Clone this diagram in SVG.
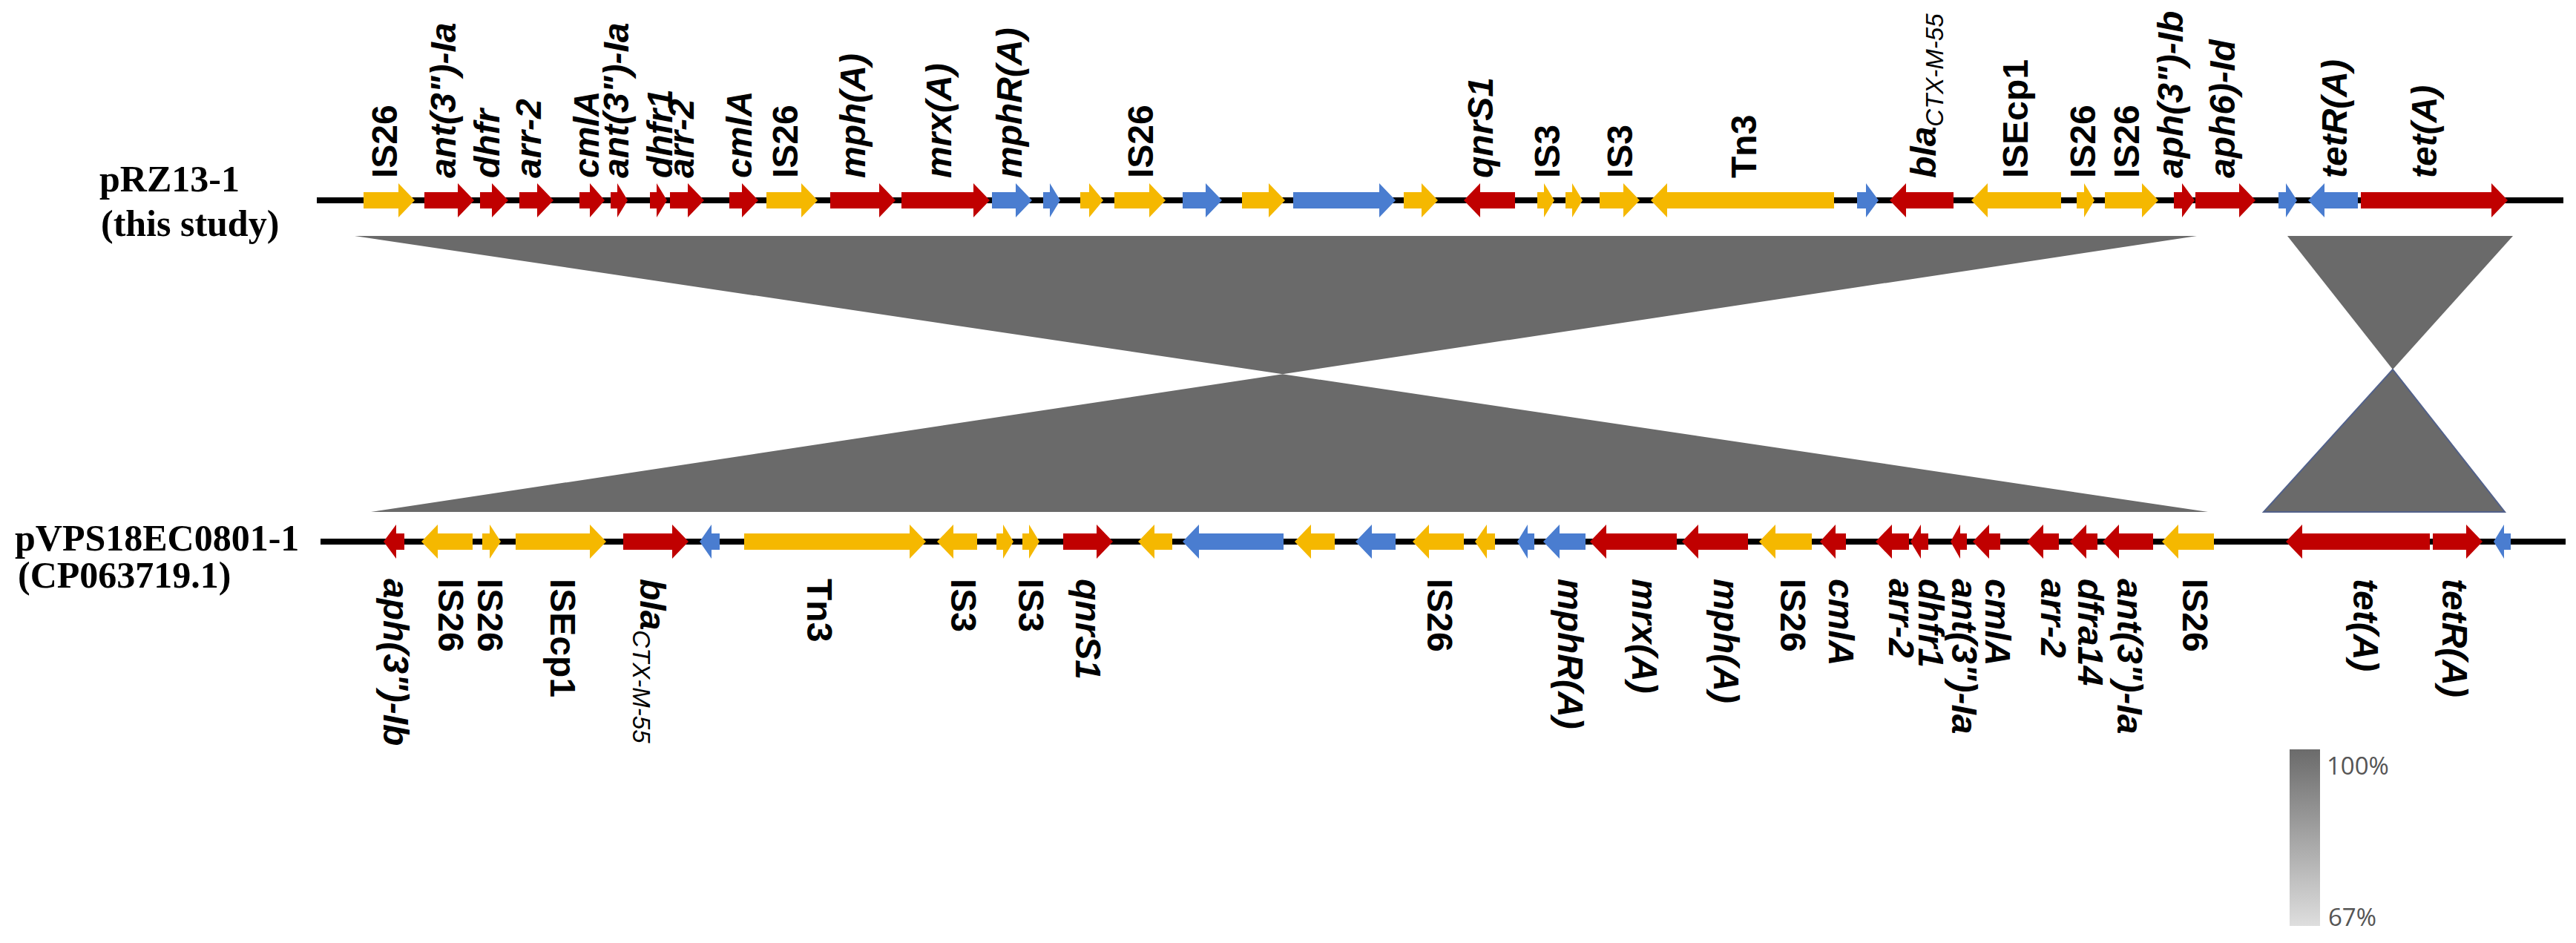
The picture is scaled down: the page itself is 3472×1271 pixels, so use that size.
<svg xmlns="http://www.w3.org/2000/svg" width="3472" height="1271" viewBox="0 0 3472 1271">
<style>
.g{font-family:"Liberation Sans",Arial,sans-serif;font-size:48px;font-weight:bold;fill:#000}
.i{font-style:italic}
.s{font-size:33px;font-weight:normal}
.nm{font-family:"Liberation Serif","Times New Roman",serif;font-size:50px;font-weight:bold;fill:#000}
.pc{font-family:"Open Sans","Noto Sans",sans-serif;font-size:33px;fill:#555}
.Y{fill:#F5B800}.R{fill:#C00000}.B{fill:#4A7DD0}
.bb{stroke:#000;stroke-width:8}
.al{fill:#6a6a6a}
</style>
<defs>
<linearGradient id="leg" x1="0" y1="0" x2="0" y2="1">
<stop offset="0" stop-color="#6b6b6b"/>
<stop offset="1" stop-color="#dedede"/>
</linearGradient>
</defs>
<rect width="3472" height="1271" fill="#fff"/>

<g id="connectors">
<polygon class="al" points="478,318 2961,318 500,690 2976,690"/>
<polygon class="al" points="3083,318 3387,318 3225,498"/>
<polygon class="al" points="3225,498 3051,690 3376,690" stroke="#52618a" stroke-width="2"/>
</g>

<g id="backbones">
<line class="bb" x1="427" y1="270" x2="3455" y2="270"/>
<line class="bb" x1="432" y1="730" x2="3458" y2="730"/>
</g>

<g id="plasmid-labels">
<g id="pRZ13-1"><text class="nm" x="134" y="258">pRZ13-1</text><text class="nm" x="136" y="318">(this study)</text></g>
<g id="pVPS18EC0801-1"><text class="nm" x="20" y="742">pVPS18EC0801-1</text><text class="nm" x="24" y="792">(CP063719.1)</text></g>
</g>

<g id="top-track">
<g id="t1"><path class="Y" d="M490,259H537V247L559,270L537,293V281H490Z"/><text class="g" transform="translate(535,240) rotate(-90)">IS26</text></g>
<g id="t2"><path class="R" d="M572,259H617V247L639,270L617,293V281H572Z"/><text class="g i" transform="translate(614,240) rotate(-90)">ant(3")-Ia</text></g>
<g id="t3"><path class="R" d="M647,259H663V247L685,270L663,293V281H647Z"/><text class="g i" transform="translate(673,240) rotate(-90)">dhfr</text></g>
<g id="t4"><path class="R" d="M700,259H724V247L746,270L724,293V281H700Z"/><text class="g i" transform="translate(729,240) rotate(-90)">arr-2</text></g>
<g id="t5"><path class="R" d="M781,259H795V247L815,270L795,293V281H781Z"/><text class="g i" transform="translate(807,240) rotate(-90)">cmlA</text></g>
<g id="t6"><path class="R" d="M823,259H832V247L846,270L832,293V281H823Z"/><text class="g i" transform="translate(847,240) rotate(-90)">ant(3")-Ia</text></g>
<g id="t7"><path class="R" d="M876,259H885V247L899,270L885,293V281H876Z"/><text class="g i" transform="translate(906,240) rotate(-90)">dhfr1</text></g>
<g id="t8"><path class="R" d="M903,259H927V247L949,270L927,293V281H903Z"/><text class="g i" transform="translate(935,240) rotate(-90)">arr-2</text></g>
<g id="t9"><path class="R" d="M983,259H1000V247L1022,270L1000,293V281H983Z"/><text class="g i" transform="translate(1013,240) rotate(-90)">cmlA</text></g>
<g id="t10"><path class="Y" d="M1033,259H1080V247L1102,270L1080,293V281H1033Z"/><text class="g" transform="translate(1075,240) rotate(-90)">IS26</text></g>
<g id="t11"><path class="R" d="M1119,259H1185V247L1207,270L1185,293V281H1119Z"/><text class="g i" transform="translate(1166,240) rotate(-90)">mph(A)</text></g>
<g id="t12"><path class="R" d="M1215,259H1312V247L1334,270L1312,293V281H1215Z"/><text class="g i" transform="translate(1282,240) rotate(-90)">mrx(A)</text></g>
<g id="t13"><path class="B" d="M1337,259H1369V247L1391,270L1369,293V281H1337Z"/><text class="g i" transform="translate(1377,240) rotate(-90)">mphR(A)</text></g>
<g id="t14"><path class="B" d="M1406,259H1415V247L1429,270L1415,293V281H1406Z"/></g>
<g id="t15"><path class="Y" d="M1456,259H1468V247L1487,270L1468,293V281H1456Z"/></g>
<g id="t16"><path class="Y" d="M1502,259H1549V247L1571,270L1549,293V281H1502Z"/><text class="g" transform="translate(1554,240) rotate(-90)">IS26</text></g>
<g id="t17"><path class="B" d="M1594,259H1625V247L1647,270L1625,293V281H1594Z"/></g>
<g id="t18"><path class="Y" d="M1674,259H1710V247L1732,270L1710,293V281H1674Z"/></g>
<g id="t19"><path class="B" d="M1743,259H1859V247L1881,270L1859,293V281H1743Z"/></g>
<g id="t20"><path class="Y" d="M1892,259H1916V247L1938,270L1916,293V281H1892Z"/></g>
<g id="t21"><path class="R" d="M2042,259H1995V247L1973,270L1995,293V281H2042Z"/><text class="g i" transform="translate(2012,240) rotate(-90)">qnrS1</text></g>
<g id="t22"><path class="Y" d="M2072,259H2081V247L2095,270L2081,293V281H2072Z"/><text class="g" transform="translate(2102,240) rotate(-90)">IS3</text></g>
<g id="t23"><path class="Y" d="M2110,259H2119V247L2133,270L2119,293V281H2110Z"/></g>
<g id="t24"><path class="Y" d="M2156,259H2188V247L2210,270L2188,293V281H2156Z"/><text class="g" transform="translate(2200,240) rotate(-90)">IS3</text></g>
<g id="t25"><path class="Y" d="M2472,259H2247V247L2225,270L2247,293V281H2472Z"/><text class="g" transform="translate(2367,240) rotate(-90)">Tn3</text></g>
<g id="t26"><path class="B" d="M2503,259H2515V247L2532,270L2515,293V281H2503Z"/></g>
<g id="t27"><path class="R" d="M2633,259H2569V247L2547,270L2569,293V281H2633Z"/><text class="g" transform="translate(2609,240) rotate(-90)"><tspan class="i">bla</tspan><tspan class="s i" dy="10">CTX-M-55</tspan></text></g>
<g id="t28"><path class="Y" d="M2778,259H2679V247L2657,270L2679,293V281H2778Z"/><text class="g" transform="translate(2733,240) rotate(-90)">ISEcp1</text></g>
<g id="t29"><path class="Y" d="M2799,259H2809V247L2823,270L2809,293V281H2799Z"/><text class="g" transform="translate(2824,240) rotate(-90)">IS26</text></g>
<g id="t30"><path class="Y" d="M2837,259H2887V247L2909,270L2887,293V281H2837Z"/><text class="g" transform="translate(2883,240) rotate(-90)">IS26</text></g>
<g id="t31"><path class="R" d="M2930,259H2941V247L2958,270L2941,293V281H2930Z"/><text class="g i" transform="translate(2942,240) rotate(-90)">aph(3")-Ib</text></g>
<g id="t32"><path class="R" d="M2959,259H3018V247L3040,270L3018,293V281H2959Z"/><text class="g i" transform="translate(3012,240) rotate(-90)">aph6)-Id</text></g>
<g id="t33"><path class="B" d="M3071,259H3081V247L3096,270L3081,293V281H3071Z"/></g>
<g id="t34"><path class="B" d="M3178,259H3133V247L3111,270L3133,293V281H3178Z"/><text class="g i" transform="translate(3163,240) rotate(-90)">tetR(A)</text></g>
<g id="t35"><path class="R" d="M3182,259H3358V247L3380,270L3358,293V281H3182Z"/><text class="g i" transform="translate(3284,240) rotate(-90)">tet(A)</text></g>
</g>

<g id="bottom-track">
<g id="b1"><path class="R" d="M545,719H534V707L517,730L534,753V741H545Z"/><text class="g i" transform="translate(517,780) rotate(90)">aph(3")-Ib</text></g>
<g id="b2"><path class="Y" d="M637,719H590V707L568,730L590,753V741H637Z"/><text class="g" transform="translate(591,780) rotate(90)">IS26</text></g>
<g id="b3"><path class="Y" d="M650,719H660V707L675,730L660,753V741H650Z"/><text class="g" transform="translate(644,780) rotate(90)">IS26</text></g>
<g id="b4"><path class="Y" d="M695,719H795V707L817,730L795,753V741H695Z"/><text class="g" transform="translate(742,780) rotate(90)">ISEcp1</text></g>
<g id="b5"><path class="R" d="M840,719H906V707L928,730L906,753V741H840Z"/><text class="g" transform="translate(863,780) rotate(90)"><tspan class="i">bla</tspan><tspan class="s i" dy="10">CTX-M-55</tspan></text></g>
<g id="b6"><path class="B" d="M970,719H959V707L943,730L959,753V741H970Z"/></g>
<g id="b7"><path class="Y" d="M1003,719H1226V707L1248,730L1226,753V741H1003Z"/><text class="g" transform="translate(1088,780) rotate(90)">Tn3</text></g>
<g id="b8"><path class="Y" d="M1317,719H1285V707L1263,730L1285,753V741H1317Z"/><text class="g" transform="translate(1282,780) rotate(90)">IS3</text></g>
<g id="b9"><path class="Y" d="M1343,719H1352V707L1366,730L1352,753V741H1343Z"/></g>
<g id="b10"><path class="Y" d="M1378,719H1387V707L1401,730L1387,753V741H1378Z"/><text class="g" transform="translate(1373,780) rotate(90)">IS3</text></g>
<g id="b11"><path class="R" d="M1433,719H1478V707L1500,730L1478,753V741H1433Z"/><text class="g i" transform="translate(1450,780) rotate(90)">qnrS1</text></g>
<g id="b12"><path class="Y" d="M1580,719H1556V707L1534,730L1556,753V741H1580Z"/></g>
<g id="b13"><path class="B" d="M1730,719H1616V707L1594,730L1616,753V741H1730Z"/></g>
<g id="b14"><path class="Y" d="M1799,719H1767V707L1745,730L1767,753V741H1799Z"/></g>
<g id="b15"><path class="B" d="M1881,719H1849V707L1827,730L1849,753V741H1881Z"/></g>
<g id="b16"><path class="Y" d="M1973,719H1926V707L1904,730L1926,753V741H1973Z"/><text class="g" transform="translate(1924,780) rotate(90)">IS26</text></g>
<g id="b17"><path class="Y" d="M2015,719H2004V707L1988,730L2004,753V741H2015Z"/></g>
<g id="b18"><path class="B" d="M2068,719H2059V707L2045,730L2059,753V741H2068Z"/></g>
<g id="b19"><path class="B" d="M2137,719H2102V707L2080,730L2102,753V741H2137Z"/><text class="g i" transform="translate(2100,780) rotate(90)">mphR(A)</text></g>
<g id="b20"><path class="R" d="M2260,719H2165V707L2143,730L2165,753V741H2260Z"/><text class="g i" transform="translate(2200,780) rotate(90)">mrx(A)</text></g>
<g id="b21"><path class="R" d="M2356,719H2289V707L2267,730L2289,753V741H2356Z"/><text class="g i" transform="translate(2310,780) rotate(90)">mph(A)</text></g>
<g id="b22"><path class="Y" d="M2442,719H2393V707L2371,730L2393,753V741H2442Z"/><text class="g" transform="translate(2400,780) rotate(90)">IS26</text></g>
<g id="b23"><path class="R" d="M2488,719H2474V707L2453,730L2474,753V741H2488Z"/><text class="g i" transform="translate(2465,780) rotate(90)">cmlA</text></g>
<g id="b24"><path class="R" d="M2573,719H2550V707L2528,730L2550,753V741H2573Z"/><text class="g i" transform="translate(2546,780) rotate(90)">arr-2</text></g>
<g id="b25"><path class="R" d="M2599,719H2589V707L2575,730L2589,753V741H2599Z"/><text class="g i" transform="translate(2586,780) rotate(90)">dhfr1</text></g>
<g id="b26"><path class="R" d="M2651,719H2642V707L2629,730L2642,753V741H2651Z"/><text class="g i" transform="translate(2631,780) rotate(90)">ant(3")-Ia</text></g>
<g id="b27"><path class="R" d="M2696,719H2681V707L2659,730L2681,753V741H2696Z"/><text class="g i" transform="translate(2676,780) rotate(90)">cmlA</text></g>
<g id="b28"><path class="R" d="M2775,719H2754V707L2732,730L2754,753V741H2775Z"/><text class="g i" transform="translate(2751,780) rotate(90)">arr-2</text></g>
<g id="b29"><path class="R" d="M2827,719H2812V707L2790,730L2812,753V741H2827Z"/><text class="g i" transform="translate(2801,780) rotate(90)">dfra14</text></g>
<g id="b30"><path class="R" d="M2902,719H2856V707L2834,730L2856,753V741H2902Z"/><text class="g i" transform="translate(2854,780) rotate(90)">ant(3")-Ia</text></g>
<g id="b31"><path class="Y" d="M2984,719H2936V707L2914,730L2936,753V741H2984Z"/><text class="g" transform="translate(2942,780) rotate(90)">IS26</text></g>
<g id="b32"><path class="R" d="M3275,719H3103V707L3081,730L3103,753V741H3275Z"/><text class="g i" transform="translate(3172,780) rotate(90)">tet(A)</text></g>
<g id="b33"><path class="R" d="M3279,719H3324V707L3346,730L3324,753V741H3279Z"/><text class="g i" transform="translate(3292,780) rotate(90)">tetR(A)</text></g>
<g id="b34"><path class="B" d="M3384,719H3375V707L3361,730L3375,753V741H3384Z"/></g>
</g>

<g id="legend">
<rect x="3086" y="1010" width="41" height="238" fill="url(#leg)"/>
<text class="pc" x="3136" y="1044">100%</text>
<text class="pc" x="3138" y="1248">67%</text>
</g>
</svg>
